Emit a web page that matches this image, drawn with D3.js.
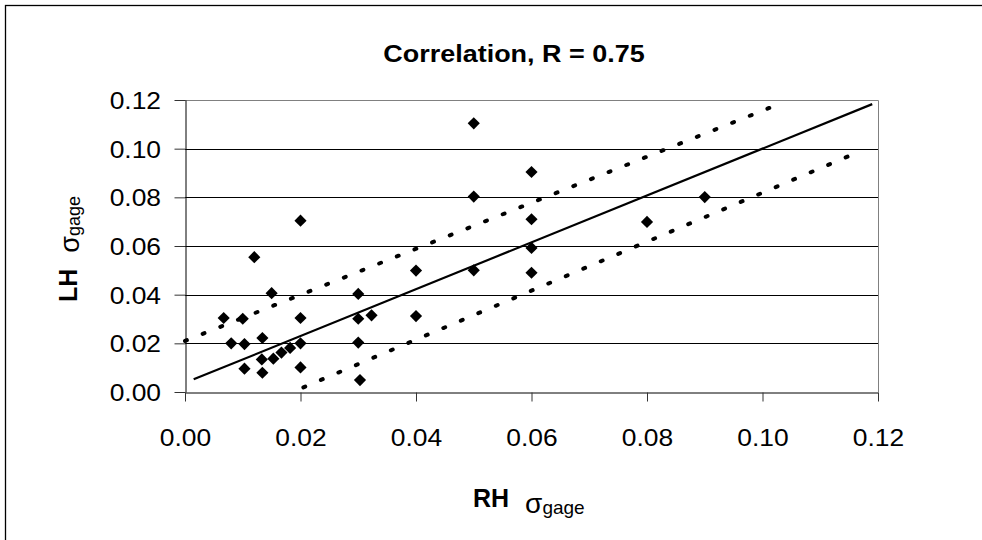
<!DOCTYPE html>
<html>
<head>
<meta charset="utf-8">
<script src="https://cdn.jsdelivr.net/npm/d3@7"></script>
<style>
  body { margin: 0; background: #fff; }
  text { font-family: "Liberation Sans", Arial, sans-serif; fill: #000; }
</style>
</head>
<body>
<svg id="chart" width="982" height="540"></svg>
<script>
// values
var rhValues = [0.02, 0.012, 0.015, 0.03, 0.04, 0.0067, 0.01, 0.02, 0.03, 0.0323,
                0.04, 0.008, 0.0103, 0.0134, 0.02, 0.03, 0.0133, 0.0153, 0.0167, 0.0182,
                0.0103, 0.0134, 0.02, 0.0303, 0.05, 0.06, 0.05, 0.06, 0.08, 0.06,
                0.05, 0.06, 0.09];
var lhValues = [0.0704, 0.0554, 0.0406, 0.0403, 0.0499, 0.0304, 0.0301, 0.0304, 0.0301, 0.0315,
                0.0312, 0.02, 0.0197, 0.0222, 0.02, 0.0203, 0.0134, 0.0137, 0.0162, 0.0181,
                0.0096, 0.0079, 0.0101, 0.0049, 0.1104, 0.0904, 0.0803, 0.071, 0.0699, 0.0592,
                0.05, 0.049, 0.0801];
var fitLine = [[0.0015, 0.0052], [0.119, 0.1183]];
var upperBand = [[0, 0.021], [0.102, 0.1175]];
var lowerBand = [[0.0205, 0.0019], [0.1158, 0.0978]];
var tickValues = [0, 0.02, 0.04, 0.06, 0.08, 0.10, 0.12];
var titleText = "Correlation, R = 0.75";

var svg = d3.select('#chart');
var stretch = 1.1;

var x = d3.scaleLinear().domain([0, 0.12]).range([185, 878]);
var y = d3.scaleLinear().domain([0, 0.12]).range([392, 100]);

// outer chart frame (right and bottom edges fall outside the picture)
svg.append('rect')
    .attr('x', 5.5).attr('y', 5.5)
    .attr('width', 1000).attr('height', 1000)
    .attr('fill', '#fff')
    .attr('stroke', '#000')
    .attr('stroke-width', 1.3);

// gridlines
svg.append('g')
    .selectAll('line')
    .data(tickValues.slice(1, -1))
  .enter().append('line')
    .attr('x1', x(0)).attr('x2', x(0.12))
    .attr('y1', function(d) { return Math.round(y(d)) + 0.5; })
    .attr('y2', function(d) { return Math.round(y(d)) + 0.5; })
    .attr('stroke', '#000')
    .attr('stroke-width', 1);

// plot area top/right border
svg.append('path')
    .attr('d', 'M' + x(0) + ',' + (y(0.12) + 0.5) + 'H' + (x(0.12) + 0.5) + 'V' + y(0))
    .attr('fill', 'none')
    .attr('stroke', '#808080')
    .attr('stroke-width', 1);

// axes
var xAxis = svg.append('g')
    .attr('transform', 'translate(0,' + (y(0) + 0.5) + ')')
    .call(d3.axisBottom(x).tickValues(tickValues).tickSize(9).tickSizeOuter(0)
      .tickFormat(d3.format('.2f')));
xAxis.selectAll('text')
    .attr('y', 54)
    .attr('dy', null)
    .style('font-size', '24px')
    .attr('transform', 'scale(' + stretch + ',1)');

var yAxis = svg.append('g')
    .attr('transform', 'translate(' + (x(0) + 0.5) + ',0)')
    .call(d3.axisLeft(y).tickValues(tickValues).tickSize(11).tickSizeOuter(0)
      .tickFormat(d3.format('.2f')));
yAxis.selectAll('text')
    .attr('x', -24.5 / stretch)
    .attr('dy', '0.35em')
    .style('font-size', '24px')
    .attr('transform', 'scale(' + stretch + ',1)');

svg.selectAll('.domain, .tick line').attr('stroke', '#000');
svg.selectAll('.tick line').attr('stroke', '#333');

// trend line and bands
var line = d3.line()
    .x(function(d) { return x(d[0]); })
    .y(function(d) { return y(d[1]); });

svg.append('path')
    .datum(fitLine)
    .attr('d', line)
    .attr('fill', 'none')
    .attr('stroke', '#000')
    .attr('stroke-width', 2.2);

svg.selectAll('path.band')
    .data([upperBand, lowerBand])
  .enter().append('path')
    .attr('class', 'band')
    .attr('d', line)
    .attr('fill', 'none')
    .attr('stroke', '#000')
    .attr('stroke-width', 4)
    .attr('stroke-linecap', 'round')
    .attr('stroke-dasharray', '2 17');

// data points (diamonds)
var diamond = d3.symbol().type(d3.symbolSquare).size(74);
svg.append('g')
    .selectAll('path')
    .data(d3.range(rhValues.length))
  .enter().append('path')
    .attr('d', diamond)
    .attr('fill', '#000')
    .attr('transform', function(i) {
      return 'translate(' + x(rhValues[i]) + ',' + y(lhValues[i]) + ') rotate(45)';
    });

// title
svg.append('text')
    .attr('transform', 'translate(514,61.5) scale(' + stretch + ',1)')
    .attr('text-anchor', 'middle')
    .style('font-size', '24.5px')
    .style('font-weight', 'bold')
    .text(titleText);

// x axis title
var xTitle = svg.append('text')
    .attr('transform', 'translate(473,507)');
xTitle.append('tspan').style('font-weight', 'bold').style('font-size', '25px').text('RH');
xTitle.append('tspan').attr('dx', 16).attr('dy', 6).style('font-size', '28px').text('σ');
xTitle.append('tspan').attr('dy', 1).style('font-size', '19px').text('gage');

// y axis title
var yTitle = svg.append('text')
    .attr('transform', 'translate(77,302) rotate(-90)');
yTitle.append('tspan').style('font-weight', 'bold').style('font-size', '25px').text('LH');
yTitle.append('tspan').attr('dx', 16).attr('dy', 2).style('font-size', '27px').text('σ');
yTitle.append('tspan').attr('dy', 1).style('font-size', '18px').text('gage');
</script>
</body>
</html>
